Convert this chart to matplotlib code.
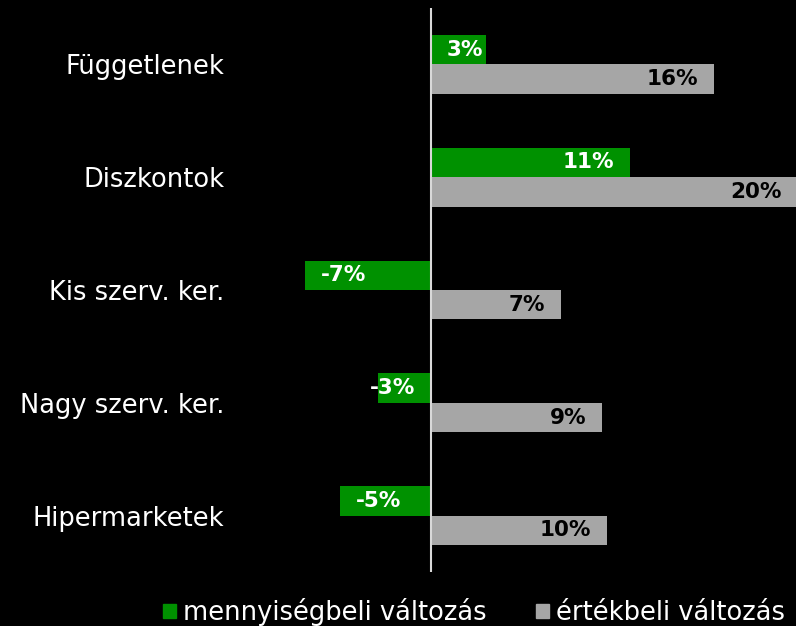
import numpy as np
import matplotlib
matplotlib.use("Agg")
import matplotlib.pyplot as plt
from matplotlib.patches import Patch

plt.rcParams['font.family'] = ['DejaVu Sans']

# data
categories = ["Függetlenek", "Diszkontok", "Kis szerv. ker.", "Nagy szerv. ker.", "Hipermarketek"]
qty_change = [3.1, 11.2, -7.1, -3.0, -5.1]
val_change = [15.9, 20.6, 7.3, 9.6, 9.9]
qty_labels = ["3%", "11%", "-7%", "-3%", "-5%"]
val_labels = ["16%", "20%", "7%", "9%", "10%"]
legend_names = ["mennyiségbeli változás", "értékbeli változás"]

GREEN = "#009100"
GREY = "#a6a6a6"

fig = plt.figure(figsize=(7.96, 6.26), dpi=100, facecolor="black")
ax = fig.add_axes([250 / 796, 54 / 626, 546 / 796, 564 / 626], facecolor="black")

y = np.arange(len(categories))
h = 0.2615
ax.barh(y - h / 2, qty_change, height=h, color=GREEN)
ax.barh(y + h / 2, val_change, height=h, color=GREY)

ax.set_xlim(-10.17, 20.5)
ax.set_ylim(4.5, -0.5)
ax.axvline(0, color="#d9d9d9", lw=1.5)

for s in ax.spines.values():
    s.set_visible(False)
ax.set_xticks([])
ax.set_yticks(y)
ax.set_yticklabels(categories, color="white", fontsize=18.5)
ax.tick_params(axis="y", length=0, pad=18.5)


def put_label(v, yy, txt, col):
    # label sits inside the bar end; short bars keep it next to the axis
    inset = 11.5
    if abs(v) >= 4:
        x0, off = v, -inset if v > 0 else inset
        ha = "right" if v > 0 else "left"
    else:
        x0, off = 0, inset if v > 0 else -inset
        ha = "left" if v > 0 else "right"
    ax.annotate(txt, (x0, yy), xytext=(off, 0), textcoords="offset points",
                ha=ha, va="center", color=col, fontsize=15.5, fontweight="bold",
                annotation_clip=False)


for i in range(len(categories)):
    put_label(qty_change[i], y[i] - h / 2, qty_labels[i], "white")
    put_label(val_change[i], y[i] + h / 2, val_labels[i], "black")

handles = [Patch(color=GREEN), Patch(color=GREY)]
fig.legend(handles, legend_names, loc="center", bbox_to_anchor=(474 / 796, 1 - 612 / 626),
           ncol=2, frameon=False, labelcolor="white", fontsize=18.5,
           handlelength=0.5, handleheight=0.5, handletextpad=0.3, columnspacing=1.9,
           borderpad=0, borderaxespad=0)

fig.savefig("out.png", dpi=100, facecolor="black")
